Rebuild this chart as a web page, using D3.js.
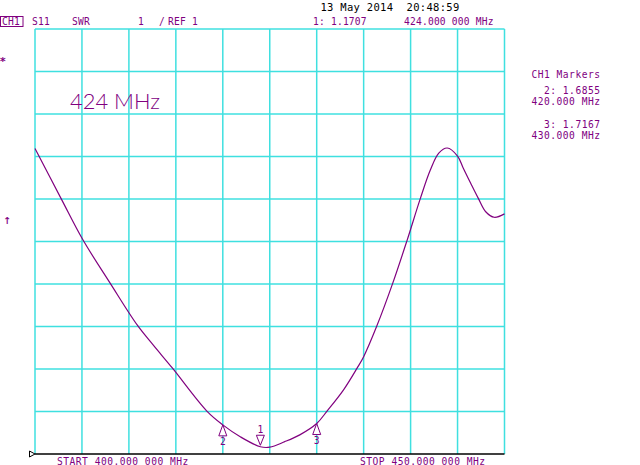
<!DOCTYPE html>
<html>
<head>
<meta charset="utf-8">
<script src="https://cdn.jsdelivr.net/npm/d3@7"></script>
<style>
  html, body { margin: 0; padding: 0; background: #ffffff; }
  svg { display: block; }
  text { font-family: "DejaVu Sans Mono", "Liberation Mono", monospace; }
</style>
</head>
<body>
<script>
// ---- data ----
const freqMHz = [400, 402.85, 405.1, 408, 410.9, 412.6, 414.6, 418.3, 420, 421.9, 424, 425, 426.6,
                 428.2, 430, 431.1, 432.86, 434.3, 435, 436.4, 438.1, 439.6, 441.05, 442.1, 443, 443.9,
                 445, 445.6, 446.4, 447.2, 448, 448.9, 450];
const swrValues = [8.19, 6.98, 6.04, 5.02, 4.03, 3.56, 3.03, 2.01, 1.6855, 1.40, 1.1707, 1.16, 1.29,
                   1.45, 1.7167, 2.01, 2.51, 3.02, 3.29, 4.01, 5.02, 6.01, 7.02, 7.68, 8.08, 8.2,
                   8.01, 7.73, 7.37, 7.02, 6.70, 6.57, 6.65];
const xTicks = [400, 405, 410, 415, 420, 425, 430, 435, 440, 445, 450];
const yTicks = [1, 2, 3, 4, 5, 6, 7, 8, 9, 10, 11];
const markerIds = ["1", "2", "3"];
const markerFreqs = [424, 420, 430];
const markerValues = [1.1707, 1.6855, 1.7167];
const legendLines = ["CH1 Markers", "2: 1.6855", "420.000 MHz", "3: 1.7167", "430.000 MHz"];
const headerDate = "13 May 2014  20:48:59";
const startLabel = "START 400.000 000 MHz";
const stopLabel = "STOP 450.000 000 MHz";
const noteLabel = "424 MHz";

// ---- layout ----
const W = 640, H = 465;
const purple = "#80007f";
const cyan = "#3fe0e0";
const FS = 9.6, LS = 0.5;
const svg = d3.select("body").append("svg").attr("width", W).attr("height", H);
svg.append("rect").attr("width", W).attr("height", H).attr("fill", "#fff");

const x = d3.scaleLinear().domain([400, 450]).range([35, 504.5]);
const y = d3.scaleLinear().domain([1, 11]).range([454, 29]);

function label(t, tx, ty, opts = {}) {
  return svg.append("text").attr("x", tx).attr("y", ty)
    .attr("font-size", opts.size || FS)
    .attr("letter-spacing", opts.ls === undefined ? LS : opts.ls)
    .attr("text-anchor", opts.anchor || "start")
    .attr("fill", opts.fill || purple)
    .style("white-space", "pre").text(t);
}

// grid
const g = svg.append("g");
g.selectAll("line.v").data(xTicks).join("line")
  .attr("x1", d => x(d)).attr("x2", d => x(d))
  .attr("y1", y(11)).attr("y2", y(1))
  .attr("stroke", cyan).attr("stroke-width", 1.5);
g.selectAll("line.h").data(yTicks.slice(1)).join("line")
  .attr("x1", x(400)).attr("x2", x(450))
  .attr("y1", d => y(d)).attr("y2", d => y(d))
  .attr("stroke", cyan).attr("stroke-width", 1.5);
// reference (bottom) line
g.append("line").attr("x1", x(400)).attr("x2", x(450)).attr("y1", y(1)).attr("y2", y(1))
  .attr("stroke", "#000").attr("stroke-width", 1.5);
// reference position indicator
g.append("path")
  .attr("d", `M${x(400) - 5.5},${y(1) - 3}L${x(400)},${y(1)}L${x(400) - 5.5},${y(1) + 3}Z`)
  .attr("fill", "#fff").attr("stroke", "#000").attr("stroke-width", 1);

// trace
const line = d3.line().x((d, i) => x(freqMHz[i])).y(d => y(d)).curve(d3.curveCatmullRom.alpha(0.5));
svg.append("path").datum(swrValues).attr("d", line)
  .attr("fill", "none").attr("stroke", purple).attr("stroke-width", 1.2);

// markers
markerIds.forEach((id, i) => {
  const mx = x(markerFreqs[i]), my = y(markerValues[i]);
  if (i === 0) {
    const ay = my - 1.5;
    svg.append("path").attr("d", `M${mx},${ay}L${mx - 4},${ay - 10}L${mx + 4},${ay - 10}Z`)
      .attr("fill", "#fff").attr("stroke", purple).attr("stroke-width", 1);
    label(id, mx, ay - 12.5, { anchor: "middle", ls: 0 });
  } else {
    svg.append("path").attr("d", `M${mx},${my}L${mx - 4},${my + 11}L${mx + 4},${my + 11}Z`)
      .attr("fill", "#fff").attr("stroke", purple).attr("stroke-width", 1);
    label(id, mx, my + 20, { anchor: "middle", ls: 0 });
  }
});

// header
label(headerDate, 320.5, 10.5, { size: 10.5, ls: 0.3, fill: "#000" });
svg.append("rect").attr("x", 0.5).attr("y", 16.5).attr("width", 22.5).attr("height", 10)
  .attr("fill", "none").attr("stroke", purple).attr("stroke-width", 1);
const hdr = [["CH1", 2], ["S11", 32], ["SWR", 72], ["1", 138], ["/", 159], ["REF 1", 168],
             ["1: 1.1707", 313], ["424.000 000 MHz", 404]];
hdr.forEach(([t, hx]) => label(t, hx, 25, { ls: 0.2 }));

// right legend
const legY = [78, 94, 104.5, 128, 138.5];
legendLines.forEach((t, i) => label(t, 600.5, legY[i], { anchor: "end" }));

// left symbols
label("*", -0.5, 65, { size: 11, ls: 0 }).attr("font-weight", "bold");
label("\u2191", 3.5, 224, { size: 13, ls: 0 });

// note
svg.append("text").attr("x", 70).attr("y", 109.3).attr("font-size", 21)
  .attr("fill", purple).style("font-family", "Lato, 'DejaVu Sans'").style("font-weight", 300)
  .attr("textLength", 90).attr("lengthAdjust", "spacingAndGlyphs").text(noteLabel);

// bottom labels
label(startLabel, 57, 464.5);
label(stopLabel, 360, 464.5);
</script>
</body>
</html>
